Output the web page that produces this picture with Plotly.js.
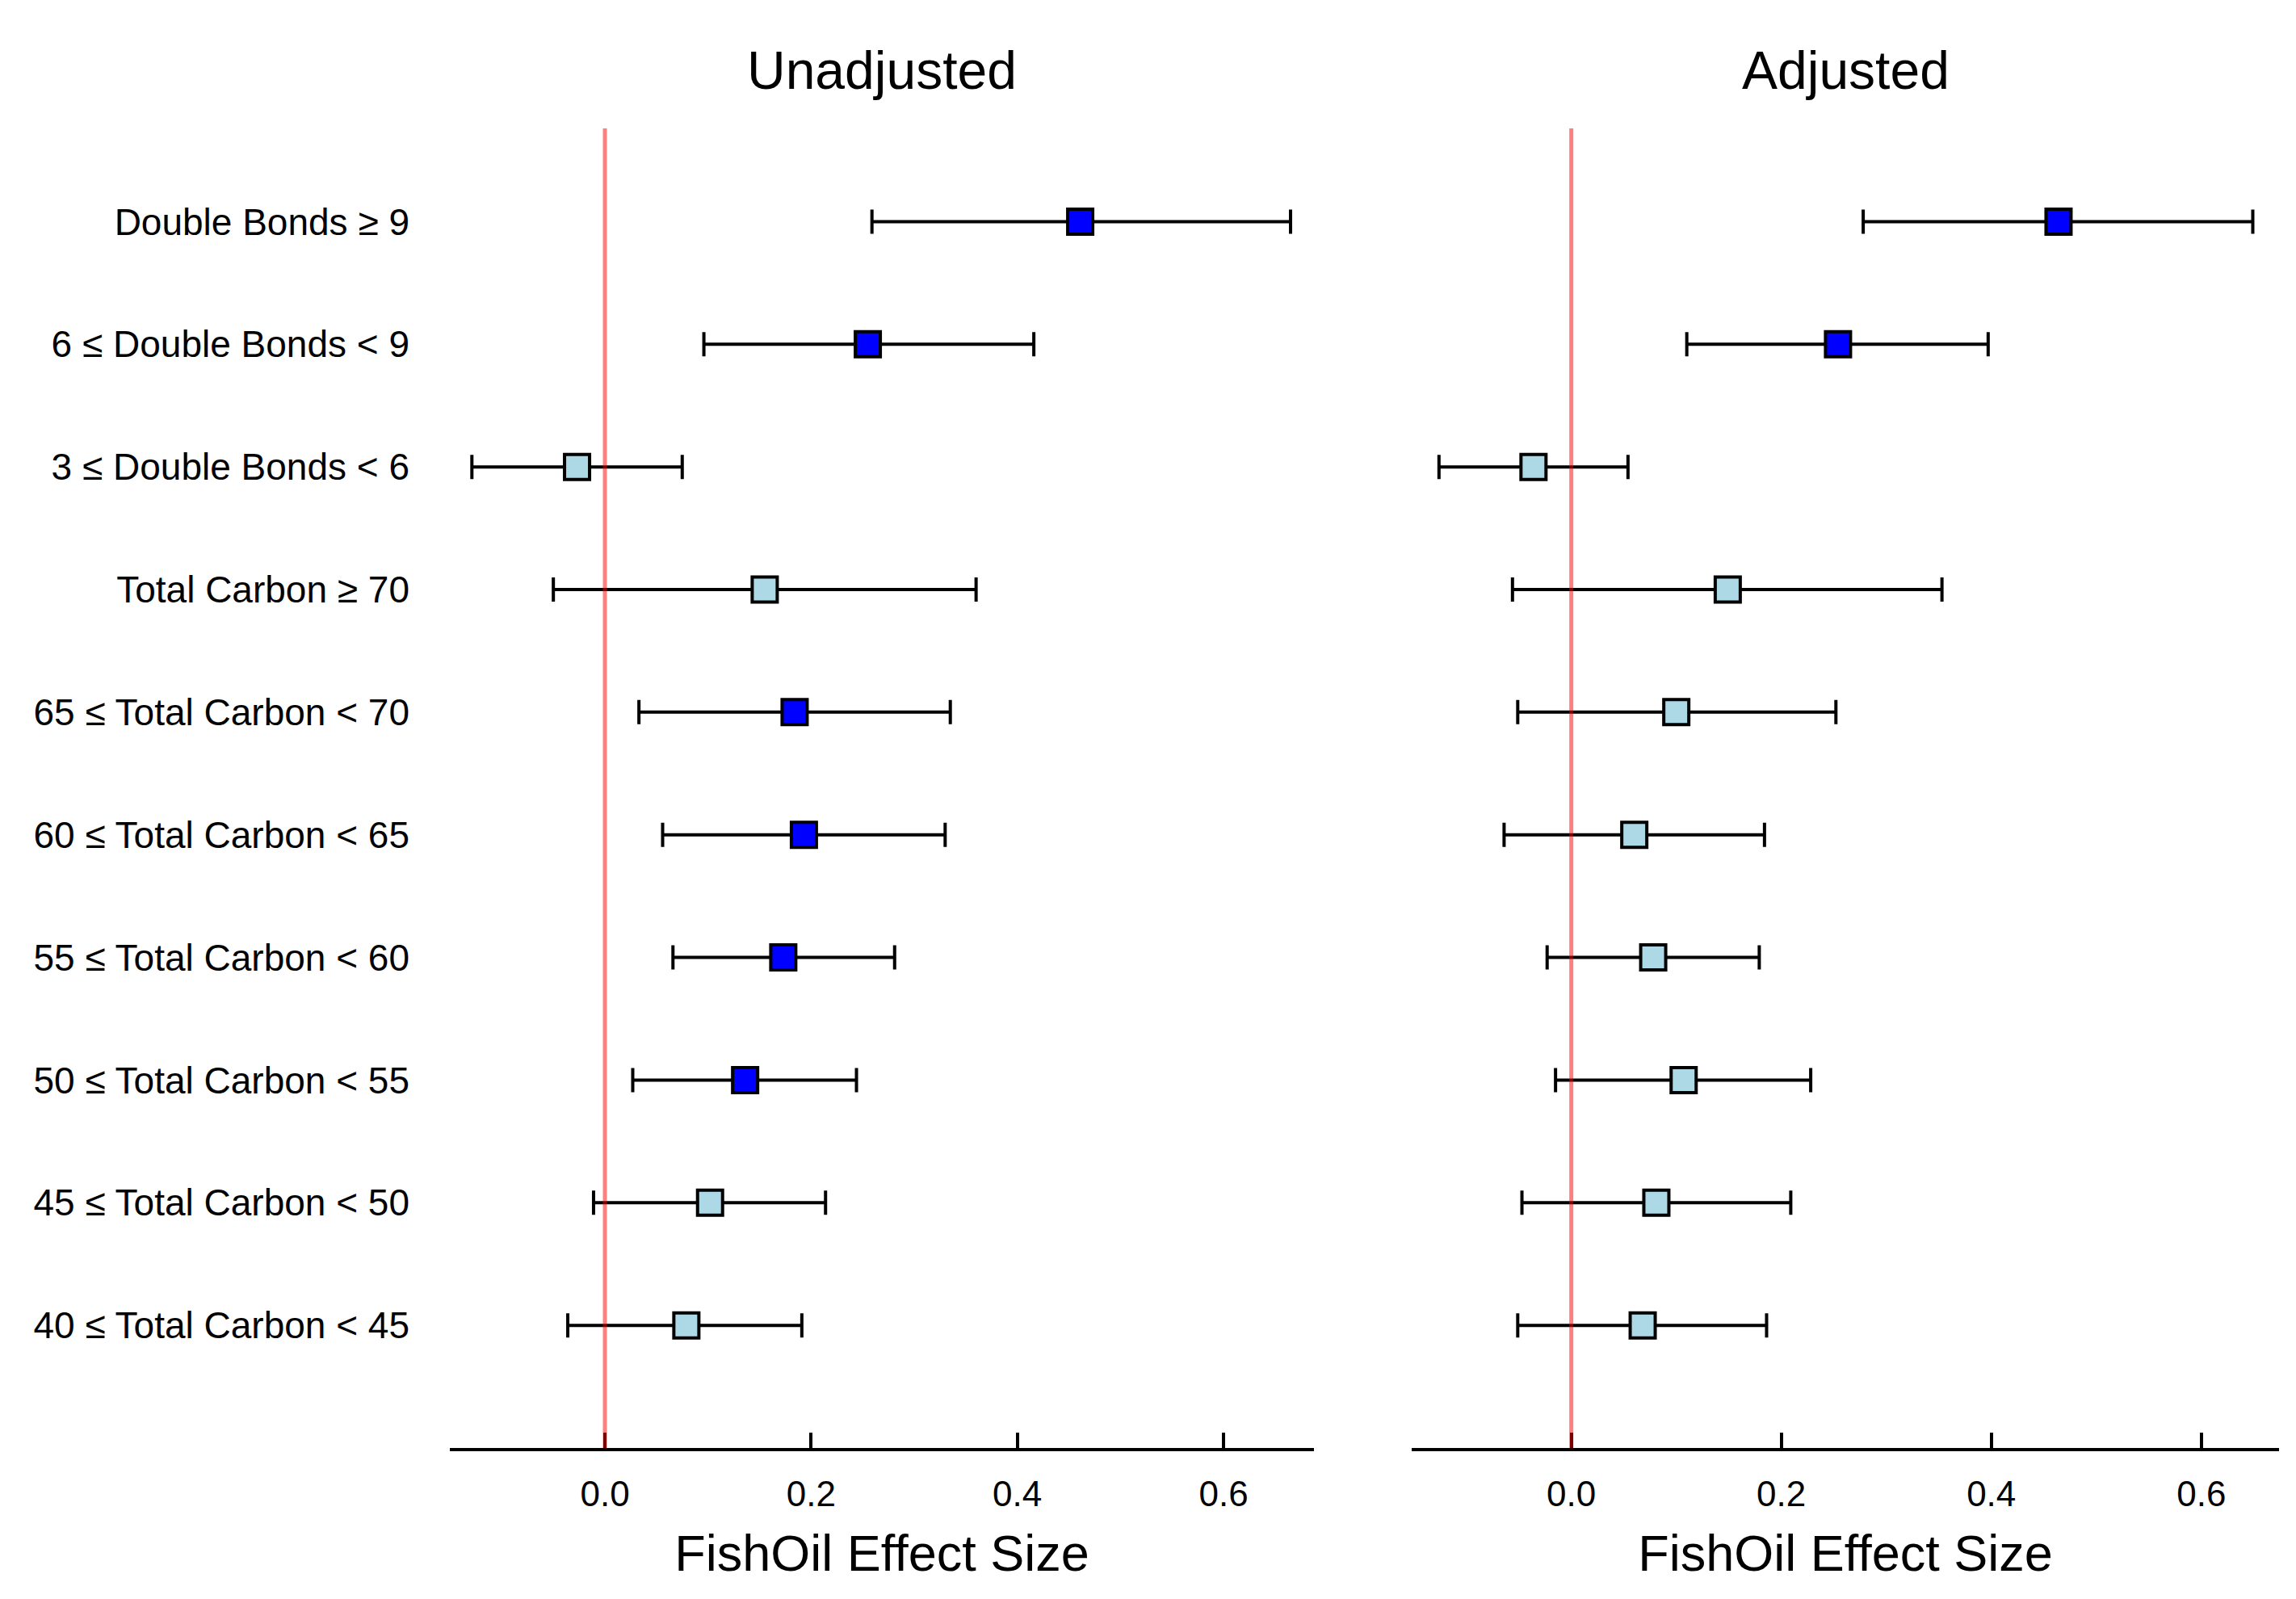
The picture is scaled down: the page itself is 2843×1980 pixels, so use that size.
<!DOCTYPE html>
<html>
<head>
<meta charset="utf-8">
<script src="https://cdn.plot.ly/plotly-3.0.1.min.js"></script>
<style>
html,body{margin:0;padding:0;background:#fff;}
#chart{width:2843px;height:1980px;}
</style>
</head>
<body>
<div id="chart"></div>
<script>
// Categories, top to bottom
const categories = [
  "Double Bonds \u2265 9",
  "6 \u2264 Double Bonds < 9",
  "3 \u2264 Double Bonds < 6",
  "Total Carbon \u2265 70",
  "65 \u2264 Total Carbon < 70",
  "60 \u2264 Total Carbon < 65",
  "55 \u2264 Total Carbon < 60",
  "50 \u2264 Total Carbon < 55",
  "45 \u2264 Total Carbon < 50",
  "40 \u2264 Total Carbon < 45"
];

// Unadjusted panel
const unadjEst   = [0.461, 0.255, -0.027, 0.155, 0.184, 0.193, 0.173, 0.136, 0.102, 0.079];
const unadjLower = [0.259, 0.096, -0.129, -0.050, 0.033, 0.056, 0.066, 0.027, -0.011, -0.036];
const unadjUpper = [0.665, 0.416, 0.075, 0.360, 0.335, 0.330, 0.281, 0.244, 0.214, 0.191];

// Adjusted panel
const adjEst   = [0.464, 0.254, -0.036, 0.149, 0.100, 0.060, 0.078, 0.107, 0.081, 0.068];
const adjLower = [0.278, 0.110, -0.126, -0.056, -0.051, -0.064, -0.023, -0.015, -0.047, -0.051];
const adjUpper = [0.649, 0.397, 0.054, 0.353, 0.252, 0.184, 0.179, 0.228, 0.209, 0.186];

const xTickVals = [0, 0.2, 0.4, 0.6];
const xTickText = ["0.0", "0.2", "0.4", "0.6"];
const panelTitles = ["Unadjusted", "Adjusted"];
const xTitle = "FishOil Effect Size";

const FONT = "Liberation Sans, Arial, Helvetica, sans-serif";
const SIG = "#0000FF", NONSIG = "#ADD8E6";

const yPos = categories.map((c, i) => categories.length - i);

function makeTrace(est, lo, hi, xa, ya) {
  return {
    type: "scatter",
    mode: "markers",
    x: est,
    y: yPos,
    xaxis: xa,
    yaxis: ya,
    hoverinfo: "skip",
    cliponaxis: false,
    marker: {
      symbol: "square",
      size: 31,
      color: lo.map((l, i) => (l > 0 || hi[i] < 0) ? SIG : NONSIG),
      line: {color: "black", width: 4}
    },
    error_x: {
      type: "data",
      symmetric: false,
      array: hi.map((h, i) => h - est[i]),
      arrayminus: lo.map((l, i) => est[i] - l),
      color: "black",
      thickness: 4,
      width: 15
    }
  };
}

const data = [
  makeTrace(unadjEst, unadjLower, unadjUpper, "x", "y"),
  makeTrace(adjEst, adjLower, adjUpper, "x2", "y2")
];

const W = 2843, H = 1980;
const yDom = [1 - 1793 / H, 1 - 159 / H];
const yRange = [0, 10.76];

function xAxis(domain, range, anchor) {
  return {
    domain: domain,
    range: range,
    anchor: anchor,
    showgrid: false,
    zeroline: false,
    showline: true,
    linecolor: "black",
    linewidth: 4,
    ticks: "inside",
    ticklen: 19,
    tickwidth: 4,
    tickcolor: "black",
    tickvals: xTickVals,
    ticktext: xTickText,
    tickfont: {family: FONT, size: 44, color: "black"},
    ticklabelstandoff: 15,
    title: {text: xTitle, font: {family: FONT, size: 63, color: "black"}, standoff: 29}
  };
}

const layout = {
  width: W,
  height: H,
  margin: {l: 0, r: 0, t: 0, b: 0, pad: 0},
  paper_bgcolor: "white",
  plot_bgcolor: "white",
  showlegend: false,
  font: {family: FONT, color: "black"},
  xaxis: xAxis([557 / W, 1627 / W], [-0.1504, 0.6877], "y"),
  xaxis2: xAxis([1748 / W, 2822 / W], [-0.152, 0.674], "y2"),
  yaxis: {
    domain: yDom,
    range: yRange,
    anchor: "x",
    showgrid: false,
    zeroline: false,
    showline: false,
    ticks: "",
    tickvals: yPos,
    ticktext: categories,
    tickfont: {family: FONT, size: 46, color: "black"},
    ticklabelstandoff: 49
  },
  yaxis2: {
    domain: yDom,
    range: yRange,
    anchor: "x2",
    showgrid: false,
    zeroline: false,
    showline: false,
    ticks: "",
    showticklabels: false
  },
  shapes: [
    {type: "line", xref: "x", yref: "y domain", x0: 0, x1: 0, y0: 0, y1: 1,
     line: {color: "rgba(255,0,0,0.5)", width: 5}, layer: "above"},
    {type: "line", xref: "x2", yref: "y2 domain", x0: 0, x1: 0, y0: 0, y1: 1,
     line: {color: "rgba(255,0,0,0.5)", width: 5}, layer: "above"}
  ],
  annotations: panelTitles.map((t, i) => ({
    text: t,
    xref: i === 0 ? "x domain" : "x2 domain",
    x: 0.5,
    xanchor: "center",
    yref: "paper",
    y: 1 - 87 / H,
    yanchor: "middle",
    showarrow: false,
    font: {family: FONT, size: 66, color: "black"}
  }))
};

Plotly.newPlot("chart", data, layout, {staticPlot: true, displayModeBar: false});
</script>
</body>
</html>
